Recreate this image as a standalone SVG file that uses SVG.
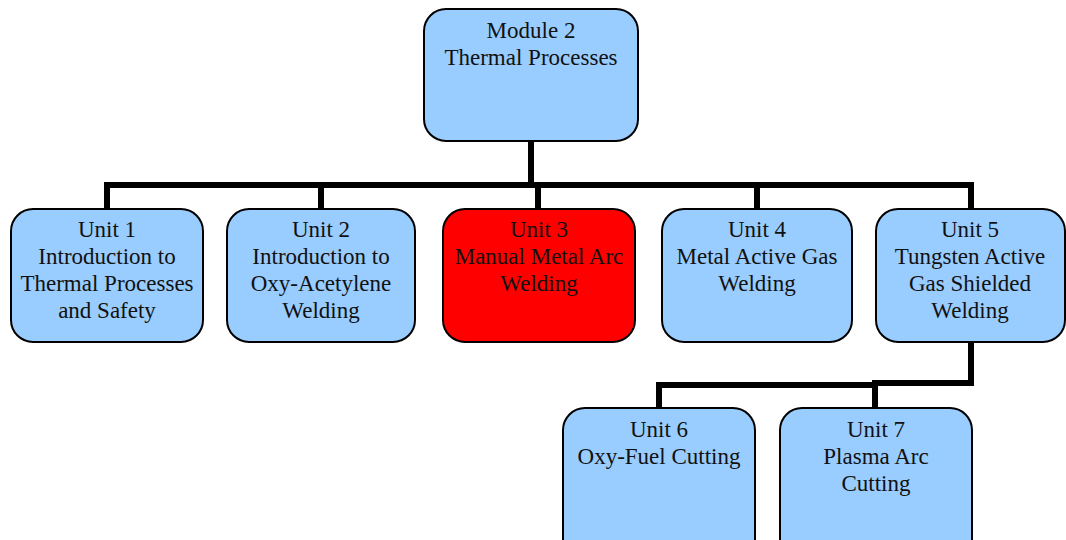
<svg xmlns="http://www.w3.org/2000/svg" width="1066" height="540" viewBox="0 0 1066 540">
<style>
.box{fill:#99CCFF;stroke:#000;stroke-width:2}
.red{fill:#FF0000;stroke:#000;stroke-width:2}
.lbl{font-family:"Liberation Serif","Times New Roman",serif;font-size:23px;fill:#111;text-anchor:middle}
.conn{fill:none;stroke:#000;stroke-width:6;stroke-linejoin:miter;stroke-linecap:square}
</style>
<rect width="1066" height="540" fill="#fff"/>
<g id="connectors">
<path class="conn" d="M531,142 V185"/>
<path class="conn" d="M107,208 V185 H971 V208"/>
<path class="conn" d="M321,185 V208"/>
<path class="conn" d="M538,185 V208"/>
<path class="conn" d="M757,185 V208"/>
<path class="conn" d="M971,342 V383 H875 V408"/>
<path class="conn" d="M875,385 H659 V408"/>
</g>
<g id="module2">
<rect class="box" x="424" y="9" width="214" height="132" rx="22"/>
<text class="lbl" x="531" y="38">Module 2</text>
<text class="lbl" x="531" y="65">Thermal Processes</text>
</g>
<g id="unit1">
<rect class="box" x="11" y="209" width="192" height="133" rx="22"/>
<text class="lbl" x="107" y="237">Unit 1</text>
<text class="lbl" x="107" y="264">Introduction to</text>
<text class="lbl" x="107" y="291">Thermal Processes</text>
<text class="lbl" x="107" y="318">and Safety</text>
</g>
<g id="unit2">
<rect class="box" x="227" y="209" width="188" height="133" rx="22"/>
<text class="lbl" x="321" y="237">Unit 2</text>
<text class="lbl" x="321" y="264">Introduction to</text>
<text class="lbl" x="321" y="291">Oxy-Acetylene</text>
<text class="lbl" x="321" y="318">Welding</text>
</g>
<g id="unit3">
<rect class="red" x="443" y="209" width="192" height="133" rx="22"/>
<text class="lbl" x="539" y="237">Unit 3</text>
<text class="lbl" x="539" y="264">Manual Metal Arc</text>
<text class="lbl" x="539" y="291">Welding</text>
</g>
<g id="unit4">
<rect class="box" x="662" y="209" width="190" height="133" rx="22"/>
<text class="lbl" x="757" y="237">Unit 4</text>
<text class="lbl" x="757" y="264">Metal Active Gas</text>
<text class="lbl" x="757" y="291">Welding</text>
</g>
<g id="unit5">
<rect class="box" x="876" y="209" width="189" height="133" rx="22"/>
<text class="lbl" x="970" y="237">Unit 5</text>
<text class="lbl" x="970" y="264">Tungsten Active</text>
<text class="lbl" x="970" y="291">Gas Shielded</text>
<text class="lbl" x="970" y="318">Welding</text>
</g>
<g id="unit6">
<rect class="box" x="563" y="408" width="192" height="160" rx="22"/>
<text class="lbl" x="659" y="437">Unit 6</text>
<text class="lbl" x="659" y="464">Oxy-Fuel Cutting</text>
</g>
<g id="unit7">
<rect class="box" x="780" y="408" width="192" height="160" rx="22"/>
<text class="lbl" x="876" y="437">Unit 7</text>
<text class="lbl" x="876" y="464">Plasma Arc</text>
<text class="lbl" x="876" y="491">Cutting</text>
</g>
</svg>
